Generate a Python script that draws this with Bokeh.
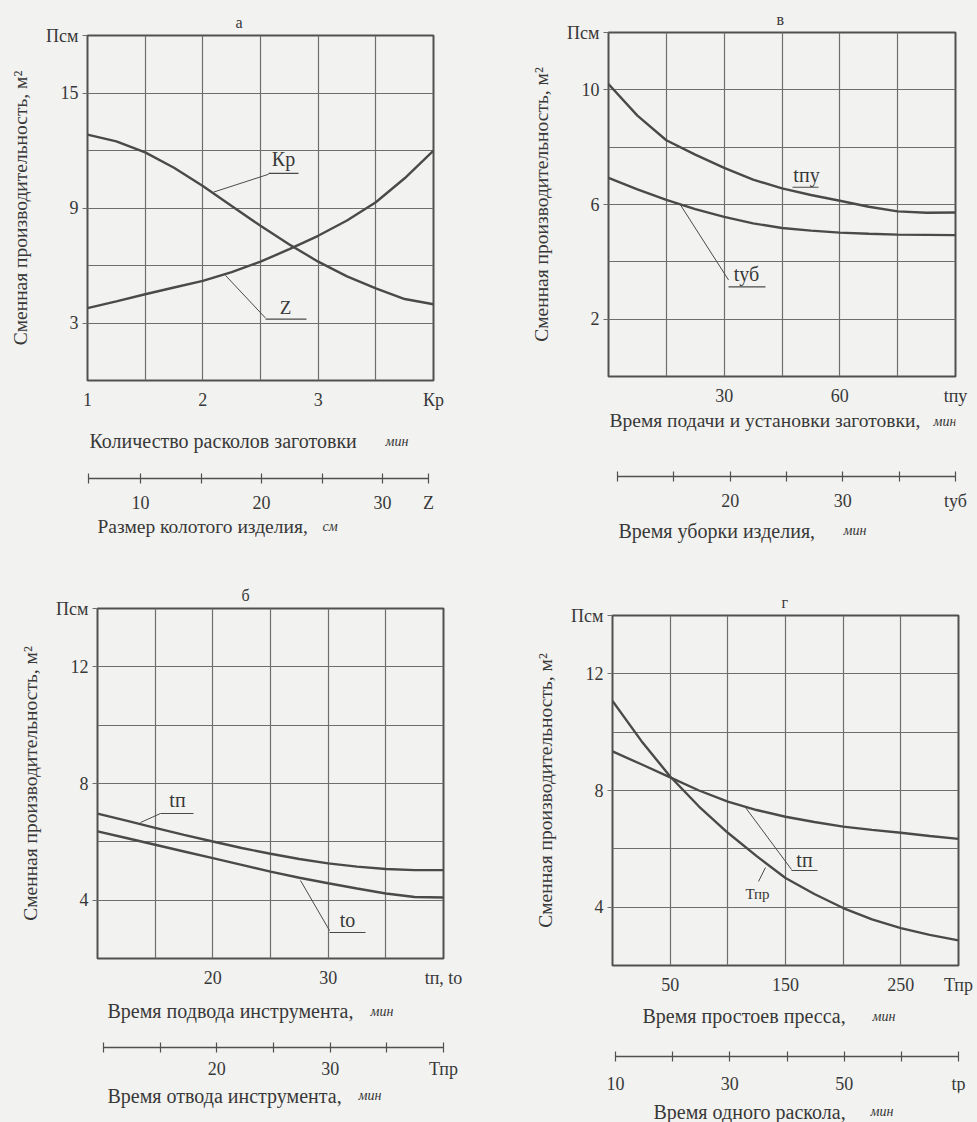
from bokeh.plotting import figure
from bokeh.models import FixedTicker, Label, Range1d
from bokeh.layouts import column, row
from bokeh.embed import file_html
from bokeh.resources import INLINE

# ---------------- data ----------------
# Panel "а": productivity vs number of splits Кр (and piece size Z)
A_KR = [1.0, 1.25, 1.5, 1.75, 2.0, 2.25, 2.5, 2.75, 3.0, 3.25, 3.5, 3.75, 4.0]
A_P_KR = [12.83, 12.48, 11.9, 11.1, 10.15, 9.1, 8.07, 7.1, 6.2, 5.43, 4.81, 4.25, 3.98]
A_P_Z = [3.78, 4.13, 4.5, 4.85, 5.2, 5.65, 6.2, 6.85, 7.55, 8.35, 9.3, 10.55, 12.0]

# Panel "в": productivity vs feed/setup time tпу and removal time tуб
V_T = [0, 7.5, 15, 22.5, 30, 37.5, 45, 52.5, 60, 67.5, 75, 82.5, 90]
V_P_PU = [10.2, 9.1, 8.24, 7.74, 7.28, 6.87, 6.56, 6.33, 6.13, 5.92, 5.76, 5.71, 5.72]
V_P_UB = [6.93, 6.53, 6.16, 5.84, 5.57, 5.34, 5.18, 5.09, 5.02, 4.98, 4.95, 4.94, 4.93]

# Panel "б": productivity vs tool approach time tп and retraction time tо
B_T = [10, 12.5, 15, 17.5, 20, 22.5, 25, 27.5, 30, 32.5, 35, 37.5, 40]
B_P_P = [6.97, 6.73, 6.48, 6.24, 6.01, 5.79, 5.59, 5.41, 5.26, 5.15, 5.07, 5.03, 5.03]
B_P_O = [6.36, 6.13, 5.9, 5.67, 5.44, 5.21, 4.98, 4.77, 4.58, 4.4, 4.23, 4.11, 4.09]

# Panel "г": productivity vs press idle time Тпр and one-split time tр
G_T = [0, 25, 50, 75, 100, 125, 150, 175, 200, 225, 250, 275, 300]
G_P_PR = [11.07, 9.7, 8.48, 7.45, 6.55, 5.75, 5.0, 4.45, 3.97, 3.58, 3.28, 3.05, 2.86]
G_P_P = [9.34, 8.9, 8.45, 8.0, 7.62, 7.33, 7.1, 6.92, 6.76, 6.65, 6.55, 6.44, 6.34]

# axis ticks / labels
A_XGRID = [1.5, 2.0, 2.5, 3.0, 3.5]
A_YGRID = [3, 6, 9, 12, 15]
A_XLAB = {1: "1", 2: "2", 3: "3", 4: "Кр"}
A_YLAB = {3: "3", 9: "9", 15: "15", 18: "Псм"}
A_Z_TICKS = {5.7: "", 10: "10", 15: "", 20: "20", 25: "", 30: "30", 33.8: "Z"}

V_XGRID = [15, 30, 45, 60, 75]
V_YGRID = [2, 4, 6, 8, 10]
V_XLAB = {30: "30", 60: "60", 90: "tпу"}
V_YLAB = {2: "2", 6: "6", 10: "10", 12: "Псм"}
V_UB_TICKS = {10: "", 15: "", 20: "20", 25: "", 30: "30", 35: "", 40: "tуб"}

B_XGRID = [15, 20, 25, 30, 35]
B_YGRID = [4, 6, 8, 10, 12]
B_XLAB = {20: "20", 30: "30", 40: "tп, tо"}
B_YLAB = {4: "4", 8: "8", 12: "12", 14: "Псм"}
B_O_TICKS = {10: "", 15: "", 20: "20", 25: "", 30: "30", 35: "", 40: "Тпр"}

G_XGRID = [50, 100, 150, 200, 250]
G_YGRID = [4, 6, 8, 10, 12]
G_XLAB = {50: "50", 150: "150", 250: "250", 300: "Тпр"}
G_YLAB = {4: "4", 8: "8", 12: "12", 14: "Псм"}
G_R_TICKS = {10: "10", 20: "", 30: "30", 40: "", 50: "50", 60: "", 70: "tр"}

YTITLE = "Сменная производительность, м²"

# ---------------- style ----------------
BG = "#f2f2f0"
LINE = "#4a4a4a"
GRID = "#6e6e6e"
TXT = "#383838"
SERIF = "Liberation Serif"


def base_fig(origin, size, frame, xr, yr, title=None, **kw):
    ox, oy = origin
    w, h = size
    fx0, fy0, fx1, fy1 = frame
    p = figure(
        width=w, height=h, x_range=Range1d(*xr), y_range=Range1d(*yr),
        output_backend="svg", toolbar_location=None, title=title,
        min_border_left=fx0 - ox, min_border_right=ox + w - fx1,
        min_border_top=fy0 - oy, min_border_bottom=oy + h - fy1, **kw
    )
    p.background_fill_color = BG
    p.border_fill_color = BG
    return p


class Panel:
    """Figure whose frame sits at a given page-pixel box."""

    def __init__(self, origin, size, frame, xr, yr, title=None):
        self.frame = frame
        self.xr = xr
        self.yr = yr
        self.p = base_fig(origin, size, frame, xr, yr, title)

    def d(self, px, py):
        fx0, fy0, fx1, fy1 = self.frame
        x = self.xr[0] + (px - fx0) / (fx1 - fx0) * (self.xr[1] - self.xr[0])
        y = self.yr[0] + (fy1 - py) / (fy1 - fy0) * (self.yr[1] - self.yr[0])
        return x, y

    def text(self, px, py, t, size="20px", align="center", style="normal"):
        x, y = self.d(px, py)
        self.p.add_layout(Label(
            x=x, y=y, text=t, text_font=SERIF, text_font_size=size,
            text_color=TXT, text_align=align, text_baseline="middle",
            text_font_style=style))

    def seg(self, pts, width=1.0):
        xs, ys = zip(*[self.d(px, py) for px, py in pts])
        self.p.line(list(xs), list(ys), line_color=LINE, line_width=width)


def main_panel(origin, size, frame, xr, yr, xgrid, ygrid, xlab, ylab,
               title, title_x):
    P = Panel(origin, size, frame, xr, yr, title)
    p = P.p
    p.title.align = "left"
    p.title.offset = title_x - frame[0] - 4
    p.title.text_font = SERIF
    p.title.text_font_size = "16px"
    p.title.text_font_style = "normal"
    p.title.text_color = TXT
    p.outline_line_color = "#505050"
    p.outline_line_width = 2
    p.xgrid.ticker = FixedTicker(ticks=xgrid)
    p.ygrid.ticker = FixedTicker(ticks=ygrid)
    for g in (p.xgrid, p.ygrid):
        g.grid_line_color = GRID
        g.grid_line_width = 1.2
    ax = p.xaxis[0]
    ax.ticker = FixedTicker(ticks=list(xlab.keys()))
    ax.major_label_overrides = dict(xlab)
    ax.axis_line_color = None
    ax.major_tick_out = 0
    ax.major_tick_in = 0
    ax.major_label_standoff = 9
    ay = p.yaxis[0]
    ay.ticker = FixedTicker(ticks=list(ylab.keys()))
    ay.major_label_overrides = dict(ylab)
    ay.axis_line_color = None
    ay.major_tick_out = 5
    ay.major_tick_in = 0
    ay.major_tick_line_color = GRID
    ay.major_label_standoff = 4
    ay.axis_label = YTITLE
    ay.axis_label_standoff = 12
    ay.axis_label_text_font_style = "normal"
    for a in (ax, ay):
        a.major_label_text_font = SERIF
        a.major_label_text_font_size = "18px"
        a.major_label_text_color = TXT
        a.axis_label_text_font = SERIF
        a.axis_label_text_font_size = "19.5px"
        a.axis_label_text_color = TXT
    return P


def strip_panel(origin, size, fx, y_axis, axis_px, ticks, standoff=9):
    fx0, fx1 = fx
    x0, x1 = axis_px
    keys = list(ticks.keys())
    v0, v1 = keys[0], keys[-1]
    k = (v1 - v0) / (x1 - x0)
    xr = (v0 + (fx0 - x0) * k, v0 + (fx1 - x0) * k)
    P = Panel(origin, size, (fx0, y_axis - 1, fx1, y_axis), xr, (0, 1))
    p = P.p
    p.outline_line_color = None
    p.xgrid.visible = False
    p.ygrid.visible = False
    p.yaxis.visible = False
    ax = p.xaxis[0]
    ax.ticker = FixedTicker(ticks=keys)
    ax.major_label_overrides = dict(ticks)
    ax.bounds = (v0, v1)
    ax.axis_line_color = "#505050"
    ax.axis_line_width = 1.5
    ax.major_tick_in = 5
    ax.major_tick_out = 5
    ax.major_tick_line_color = "#505050"
    ax.major_tick_line_width = 1.2
    ax.major_label_standoff = standoff
    ax.major_label_text_font = SERIF
    ax.major_label_text_font_size = "18px"
    ax.major_label_text_color = TXT
    return P


def caption(origin, size, fx, items):
    """Plain text strip; data coordinates equal page pixels."""
    ox, oy = origin
    w, h = size
    p = base_fig(origin, size, (fx[0], oy, fx[1], oy + h), fx, (oy + h, oy),
                 x_axis_location=None, y_axis_location=None)
    p.outline_line_color = None
    p.grid.visible = False
    for px, py, t, size_, style in items:
        p.add_layout(Label(
            x=px, y=py, text=t, text_font=SERIF, text_font_size=size_,
            text_color=TXT, text_align="left", text_baseline="middle",
            text_font_style=style))
    return p


# ---------------- panel а (x 0..480, y 0..560) ----------------
AX = (87, 433)
A = main_panel((0, 0), (480, 412), (87, 35, 433, 383), (1, 4), (0, 18),
               A_XGRID, A_YGRID, A_XLAB, A_YLAB, "а", 239)
A.p.line(A_KR, A_P_KR, line_color=LINE, line_width=2.4)
A.p.line(A_KR, A_P_Z, line_color=LINE, line_width=2.4)
A.seg([(213, 193), (268, 175)])
A.seg([(268, 174), (298, 174)], 1.2)
A.text(283, 160, "Кр")
A.seg([(225, 277), (265, 320)])
A.seg([(265, 321), (306, 321)], 1.2)
A.text(285, 309, "Z", "19px")
A_cap1 = caption((0, 412), (480, 56), AX, [
    (89, 440, "Количество расколов заготовки", "20px", "normal"),
    (385, 441, "мин", "14px", "italic")])
A2 = strip_panel((0, 468), (480, 47), AX, 478, (88, 428), A_Z_TICKS)
A_cap2 = caption((0, 515), (480, 45), AX, [
    (97, 526, "Размер колотого изделия,", "19.5px", "normal"),
    (322, 526, "см", "14px", "italic")])

# ---------------- panel в (x 480..977, y 0..560) ----------------
VX = (608, 955)
V = main_panel((480, 0), (497, 408), (608, 32, 955, 381), (0, 90), (0, 12),
               V_XGRID, V_YGRID, V_XLAB, V_YLAB, "в", 780)
V.p.line(V_T, V_P_PU, line_color=LINE, line_width=2.4)
V.p.line(V_T, V_P_UB, line_color=LINE, line_width=2.4)
V.seg([(792, 189), (818, 189)], 1.2)
V.text(806, 177, "tпу")
V.seg([(680, 207), (728, 283)])
V.seg([(728, 290), (765, 290)], 1.2)
V.text(746, 277, "tуб")
V_cap1 = caption((480, 408), (497, 58), VX, [
    (609, 420, "Время подачи и установки заготовки,", "19.5px", "normal"),
    (933, 421, "мин", "14px", "italic")])
V2 = strip_panel((480, 466), (497, 46), VX, 477, (617, 955), V_UB_TICKS)
V_cap2 = caption((480, 512), (497, 48), VX, [
    (618, 530, "Время уборки изделия,", "20px", "normal"),
    (843, 530, "мин", "14px", "italic")])

# ---------------- panel б (x 0..480, y 560..1122) ----------------
BX = (97, 443)
B = main_panel((0, 560), (480, 440), (97, 608, 443, 958), (10, 40), (2, 14),
               B_XGRID, B_YGRID, B_XLAB, B_YLAB, "б", 245)
B.p.line(B_T, B_P_P, line_color=LINE, line_width=2.4)
B.p.line(B_T, B_P_O, line_color=LINE, line_width=2.4)
B.seg([(140, 822), (160, 813)])
B.seg([(160, 813), (193, 813)], 1.2)
B.text(177, 799, "tп")
B.seg([(300, 880), (329, 930)])
B.seg([(329, 932), (365, 932)], 1.2)
B.text(347, 919, "tо")
B_cap1 = caption((0, 1000), (480, 36), BX, [
    (107, 1010, "Время подвода инструмента,", "20px", "normal"),
    (370, 1011, "мин", "14px", "italic")])
B2 = strip_panel((0, 1036), (480, 46), BX, 1047, (103, 443), B_O_TICKS, 6)
B_cap2 = caption((0, 1082), (480, 40), BX, [
    (107, 1095, "Время отвода инструмента,", "20px", "normal"),
    (358, 1095, "мин", "14px", "italic")])

# ---------------- panel г (x 480..977, y 560..1122) ----------------
GX = (612, 958)
G = main_panel((480, 560), (497, 440), (612, 615, 958, 965), (0, 300), (2, 14),
               G_XGRID, G_YGRID, G_XLAB, G_YLAB, "г", 785)
G.p.line(G_T, G_P_PR, line_color=LINE, line_width=2.4)
G.p.line(G_T, G_P_P, line_color=LINE, line_width=2.4)
G.seg([(745, 807), (791, 869)])
G.seg([(791, 870), (817, 870)], 1.2)
G.text(804, 859, "tп")
G.seg([(765, 867), (758, 881)])
G.text(757, 893, "Тпр", "15px")
G_cap1 = caption((480, 1000), (497, 46), GX, [
    (642, 1015, "Время простоев пресса,", "20px", "normal"),
    (872, 1016, "мин", "14px", "italic")])
G2 = strip_panel((480, 1046), (497, 46), GX, 1057, (615, 958), G_R_TICKS, 12)
G_cap2 = caption((480, 1092), (497, 30), GX, [
    (653, 1111, "Время одного раскола,", "20px", "normal"),
    (870, 1111, "мин", "14px", "italic")])

layout = column(
    row(column(A.p, A_cap1, A2.p, A_cap2), column(V.p, V_cap1, V2.p, V_cap2)),
    row(column(B.p, B_cap1, B2.p, B_cap2), column(G.p, G_cap1, G2.p, G_cap2)),
    styles={"background-color": BG},
)

open("out.html", "w").write(file_html(layout, INLINE))
